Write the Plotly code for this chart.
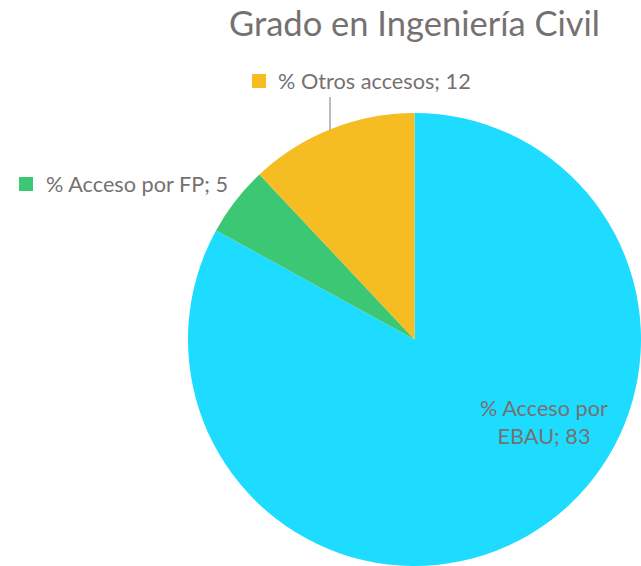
import plotly.graph_objects as go

labels = ["% Acceso por EBAU", "% Acceso por FP", "% Otros accesos"]
values = [83, 5, 12]
colors = ["#1EDCFF", "#3CC774", "#F5BD22"]
title = "Grado en Ingeniería Civil"

W, H = 641, 566
TXT = "#767171"
FONT = "Lato, sans-serif"
LBL = 21.7

fig = go.Figure(go.Pie(
    labels=labels, values=values, sort=False, direction="clockwise", rotation=0,
    marker=dict(colors=colors, line=dict(width=0)),
    textinfo="none", hoverinfo="label+value", showlegend=False,
    domain=dict(x=[188 / W, 1.0], y=[0.0, 1 - 113 / H]),
))

def px(x):
    return x / W

def py(y):
    return 1 - y / H

# data labels
fig.add_annotation(x=px(544), y=py(422), xref="paper", yref="paper",
                   xanchor="center", yanchor="middle",
                   text=f"% Acceso por<br>EBAU; {values[0]}", showarrow=False,
                   font=dict(size=LBL, color=TXT, family=FONT), align="center")
fig.add_annotation(x=px(44), y=py(184), xref="paper", yref="paper",
                   xanchor="left", yanchor="middle",
                   text=f"{labels[1]}; {values[1]}", showarrow=False,
                   font=dict(size=LBL, color=TXT, family=FONT))
fig.add_annotation(x=px(276), y=py(81), xref="paper", yref="paper",
                   xanchor="left", yanchor="middle",
                   text=f"{labels[2]}; {values[2]}", showarrow=False,
                   font=dict(size=LBL, color=TXT, family=FONT))

# legend keys
fig.add_shape(type="rect", xref="paper", yref="paper", x0=px(19), x1=px(33), y0=py(191), y1=py(177),
              fillcolor=colors[1], line=dict(width=0))
fig.add_shape(type="rect", xref="paper", yref="paper", x0=px(252), x1=px(266), y0=py(88), y1=py(74),
              fillcolor=colors[2], line=dict(width=0))
# leader line
fig.add_shape(type="line", xref="paper", yref="paper", x0=px(330), x1=px(330), y0=py(97), y1=py(130),
              line=dict(color="#A6A6A6", width=1.5))

fig.add_annotation(x=px(414.5), y=py(22), xref="paper", yref="paper",
                   xanchor="center", yanchor="middle",
                   text=title, showarrow=False,
                   font=dict(size=34.5, color=TXT, family=FONT))

fig.update_layout(width=W, height=H, margin=dict(l=0, r=0, t=0, b=0),
                  paper_bgcolor="white", plot_bgcolor="white")
fig.write_html("out.html", config={"displayModeBar": False},
               post_script="document.body.style.margin='0px';")
